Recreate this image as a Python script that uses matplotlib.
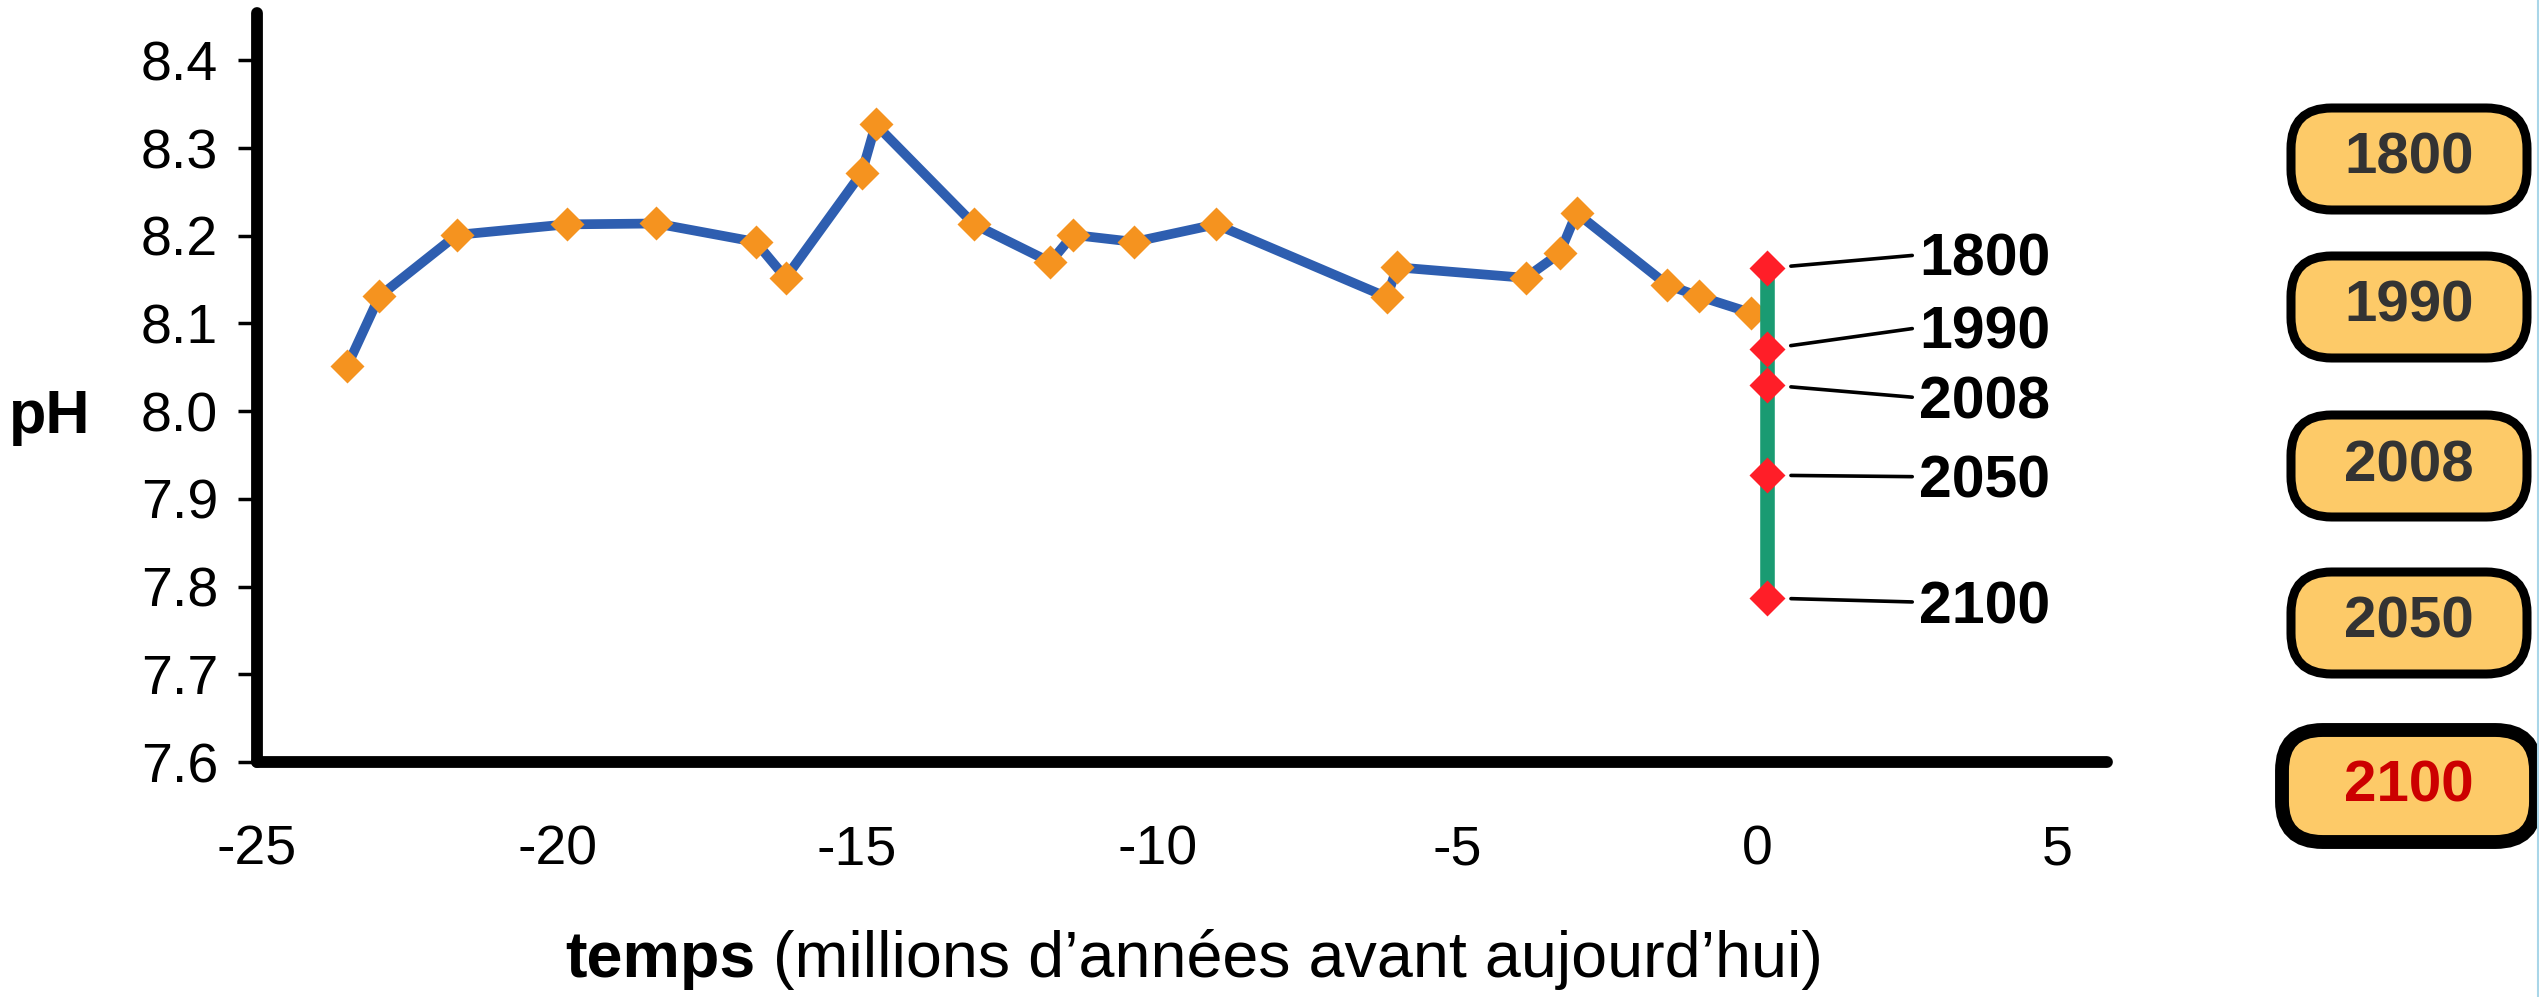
import matplotlib
matplotlib.use("Agg")
import matplotlib.pyplot as plt
from matplotlib.patches import FancyBboxPatch
from matplotlib.lines import Line2D

plt.rcParams['font.family'] = ['Liberation Sans', 'DejaVu Sans']

# ---- data ----
time_myr = [-23.50, -22.96, -21.67, -19.84, -18.35, -16.69, -16.19, -14.92, -14.69,
            -13.05, -11.78, -11.40, -10.38, -9.02, -6.17, -6.00, -3.86, -3.29, -3.01,
            -1.50, -0.97, -0.10]
ph_values = [8.051, 8.131, 8.201, 8.213, 8.214, 8.193, 8.152, 8.272, 8.327,
             8.213, 8.170, 8.201, 8.193, 8.213, 8.130, 8.164, 8.152, 8.180, 8.226,
             8.144, 8.131, 8.112]

recent_years = ['1800', '1990', '2008', '2050', '2100']
recent_ph = [8.163, 8.071, 8.030, 7.927, 7.787]
recent_x = 0.17

box_years = ['1800', '1990', '2008', '2050', '2100']

x_ticks = [-25, -20, -15, -10, -5, 0, 5]
y_ticks = [7.6, 7.7, 7.8, 7.9, 8.0, 8.1, 8.2, 8.3, 8.4]

# ---- layout ----
W, H = 2539, 997
fig = plt.figure(figsize=(W / 100, H / 100), dpi=100)
ax = fig.add_axes([257 / W, 1 - 762 / H, (2107 - 257) / W, (762 - 13) / H])
ax.set_xlim(-25, 5.83)
ax.set_ylim(7.6, 8.454)

for s in ['top', 'right']:
    ax.spines[s].set_visible(False)
for s in ['left', 'bottom']:
    ax.spines[s].set_linewidth(8.5)
    ax.spines[s].set_color('black')
    ax.spines[s].set_capstyle('round')

ax.set_xticks(x_ticks)
ax.set_xticklabels([str(v) for v in x_ticks])
ax.set_yticks(y_ticks)
ax.set_yticklabels([f"{v:.1f}" for v in y_ticks])
ax.tick_params(axis='y', length=14, width=2.5, pad=14, labelsize=40, direction='out')
ax.tick_params(axis='x', length=0, pad=45, labelsize=40)

# main series
ax.plot(time_myr, ph_values, color='#2E5EB0', lw=7, zorder=3,
        solid_capstyle='round', solid_joinstyle='round')
ax.plot(time_myr, ph_values, linestyle='none', marker='D', markersize=17.5,
        markerfacecolor='#F5931F', markeredgecolor='none', zorder=4)

# recent / projection bar
ax.plot([recent_x] * len(recent_ph), recent_ph, color='#1A9B72', lw=10.5, zorder=5,
        solid_capstyle='butt')
ax.plot([recent_x] * len(recent_ph), recent_ph, linestyle='none', marker='D',
        markersize=18.5, markerfacecolor='#FF1E28', markeredgecolor='none', zorder=6)

label_x = 2.70
label_y = [8.172, 8.089, 8.009, 7.919, 7.776]
for yr, ph, ly in zip(recent_years, recent_ph, label_y):
    ax.annotate(yr, xy=(recent_x, ph), xytext=(label_x, ly), textcoords='data',
                fontsize=42.5, fontweight='bold', ha='left', va='center', color='black',
                arrowprops=dict(arrowstyle='-', color='black', lw=2.6,
                                shrinkA=3, shrinkB=17, relpos=(0, 0.6)),
                annotation_clip=False, zorder=7)

# axis labels
fig.text(50 / W, 1 - 417 / H, 'pH', fontsize=44, fontweight='bold',
         ha='center', va='center')
t1 = fig.text(565 / W, 1 - 977 / H, 'temps', fontsize=46.5, fontweight='bold',
              ha='left', va='baseline')
fig.add_artist(plt.Annotation(' (millions d\u2019années avant aujourd\u2019hui)',
                              xy=(1, 0), xycoords=t1, fontsize=46.5,
                              ha='left', va='bottom'))

# year boxes on the right
box_centers_y = [159, 307, 466, 623, 786]
box_w, box_h = 236, 102
for i, yr in enumerate(box_years):
    cy = box_centers_y[i]
    cx = 2409
    lw = 10 if yr == '2100' else 6.5
    bw = box_w + (18 if yr == '2100' else 0)
    bh = box_h + (10 if yr == '2100' else 0)
    patch = FancyBboxPatch(((cx - bw / 2) / W, 1 - (cy + bh / 2) / H), bw / W, bh / H,
                           boxstyle='round,pad=0,rounding_size=0.016',
                           transform=fig.transFigure, facecolor='#FDCA68',
                           edgecolor='black', linewidth=lw,
                           mutation_aspect=W / H)
    fig.add_artist(patch)
    fig.text(cx / W, 1 - cy / H, yr, fontsize=42, fontweight='bold',
             color='#CC0000' if yr == '2100' else '#333333', ha='center', va='center')

fig.add_artist(Line2D([2537.5 / W, 2537.5 / W], [0, 1], transform=fig.transFigure,
                      color='#A9D6E8', lw=1.5))

fig.savefig('out.png', dpi=100, facecolor='white')
